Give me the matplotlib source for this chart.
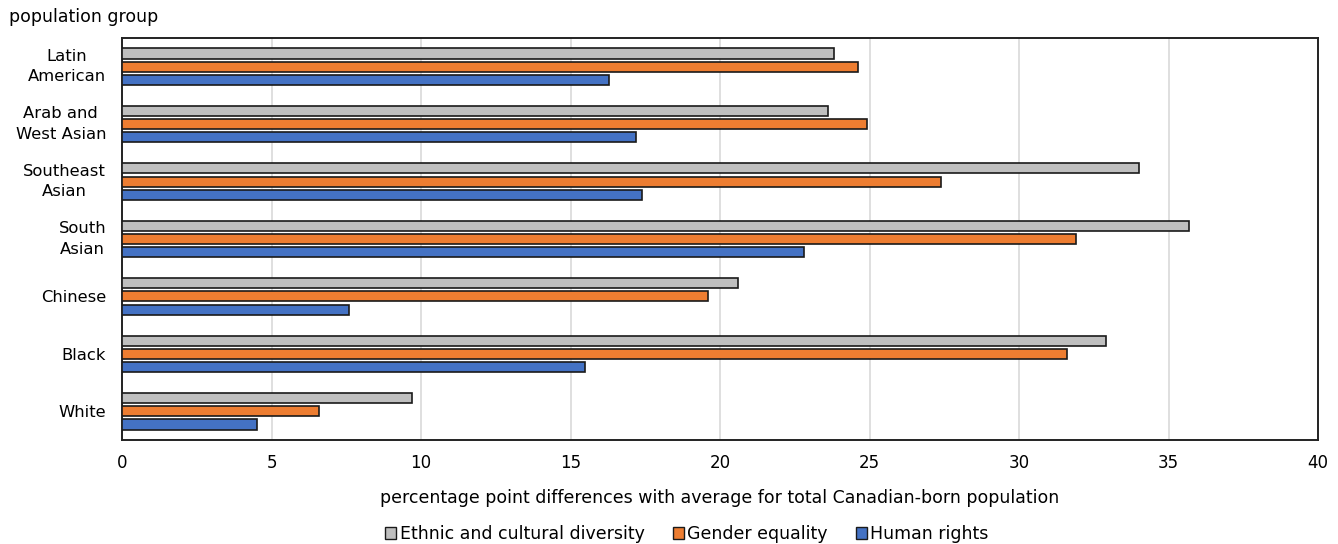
import matplotlib
matplotlib.use("Agg")
import matplotlib.pyplot as plt
import numpy as np
from matplotlib.patches import Patch

plt.rcParams['font.family'] = ['DejaVu Sans']

groups = ["Latin\nAmerican", "Arab and\nWest Asian", "Southeast\nAsian", "South\nAsian", "Chinese", "Black", "White"]
series_names = ["Ethnic and cultural diversity", "Gender equality", "Human rights"]
ethnic = [23.8, 23.6, 34.0, 35.7, 20.6, 32.9, 9.7]
gender = [24.6, 24.9, 27.4, 31.9, 19.6, 31.6, 6.6]
human = [16.3, 17.2, 17.4, 22.8, 7.6, 15.5, 4.5]
xticks = [0, 5, 10, 15, 20, 25, 30, 35, 40]

colors = ["#bfbfbf", "#ed7d31", "#4472c4"]
edge = "#1a1a1a"

fig = plt.figure(figsize=(13.38, 5.44), dpi=100)
ax = fig.add_axes([122/1338, 1-440/544, (1318-122)/1338, (440-38)/544])

y = np.arange(len(groups))
step = 0.23
h = 0.175
for i, (vals, c) in enumerate(zip([ethnic, gender, human], colors)):
    ax.barh(y + (i - 1) * step, vals, height=h, color=c, edgecolor=edge, linewidth=1.2, zorder=3)

ax.set_ylim(len(groups) - 0.5, -0.5)
ax.set_xlim(0, 40)
ax.set_xticks(xticks)
ax.set_xticklabels([str(t) for t in xticks], fontsize=12)
ax.set_yticks(y)
ax.set_yticklabels(groups, fontsize=11.8, multialignment="center", linespacing=1.45)
for lbl in ax.get_yticklabels():
    if "\n" in lbl.get_text():
        lbl.set_verticalalignment("center")
ax.tick_params(length=0)
ax.tick_params(axis="x", pad=10)
ax.tick_params(axis="y", pad=11.5)
ax.grid(axis="x", color="#d9d9d9", linewidth=1.2, zorder=0)
for s in ax.spines.values():
    s.set_color("#222222")
    s.set_linewidth(1.4)

ax.set_xlabel("percentage point differences with average for total Canadian-born population",
              fontsize=12.5, labelpad=12)
fig.text(9/1338, 1-17/544, "population group", fontsize=12.5, ha="left", va="center")

handles = [Patch(facecolor=c, edgecolor=edge, linewidth=1.0, label=n) for c, n in zip(colors, series_names)]
fig.legend(handles=handles, loc="center", bbox_to_anchor=(687/1338, 1-534/544), ncol=3,
           frameon=False, fontsize=12.5, handlelength=0.65, handleheight=0.65, handletextpad=0.2,
           columnspacing=1.6)

fig.savefig("out.png", dpi=100)
